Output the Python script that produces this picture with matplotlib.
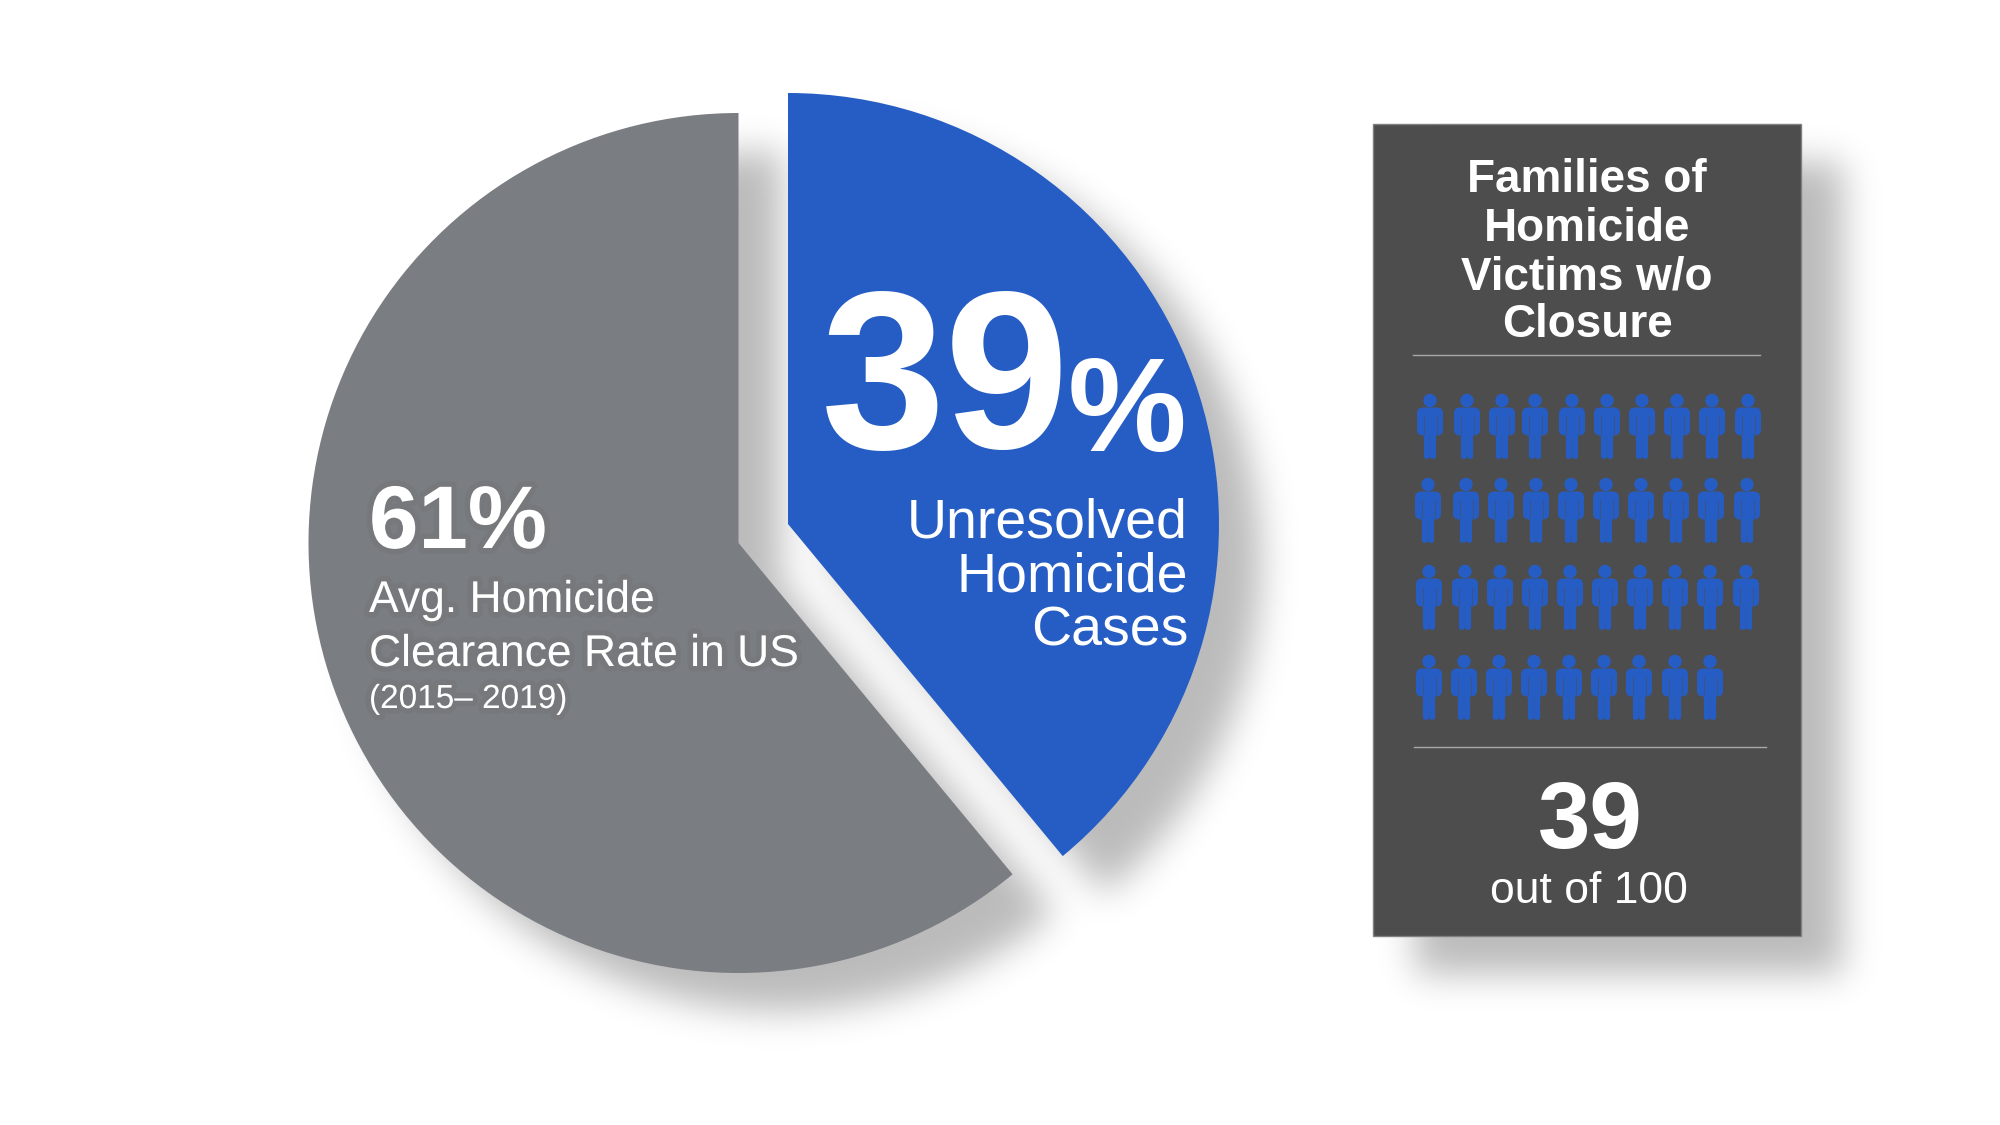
import numpy as np
import matplotlib
matplotlib.use("Agg")
import matplotlib.pyplot as plt
import matplotlib.patheffects as pe
from matplotlib.patches import Circle, FancyBboxPatch, Rectangle

plt.rcParams['font.family'] = ['Liberation Sans', 'DejaVu Sans']

# data
shares = [39, 61]
share_labels = ["39", "61%"]
rows_of_people = [10, 10, 10, 9]
panel_title = ["Families of", "Homicide", "Victims w/o", "Closure"]
blue_lines = ["Unresolved", "Homicide", "Cases"]
gray_lines = ["Avg. Homicide", "Clearance Rate in US"]
gray_years = "(2015\u2013 2019)"
panel_number = "39"
panel_note = "out of 100"

BLUE = "#265dc5"
GRAY = "#7a7d81"
PANEL = "#4d4d4d"

W, H = 2000, 1125
fig = plt.figure(figsize=(20, 11.25), dpi=100)
ax = fig.add_axes([0, 0, 1, 1])

# y axis is flipped below so angles run clockwise on screen
wedges, _ = ax.pie(shares, colors=[BLUE, GRAY], startangle=-90, counterclock=True,
                   radius=431, center=(788, 524))
wedges[0].set_zorder(3)
wedges[1].set_zorder(3)
wedges[1].set_center((738.5, 543))
wedges[1].set_radius(430)


def blur(a, sigma):
    fy = np.fft.fftfreq(a.shape[0])[:, None]
    fx = np.fft.rfftfreq(a.shape[1])[None, :]
    g = np.exp(-2 * (np.pi * sigma) ** 2 * (fx ** 2 + fy ** 2))
    return np.fft.irfft2(np.fft.rfft2(a) * g, s=a.shape)


# soft drop shadow under the wedges and the panel
px, py = 1373, 124
pw, ph = 428, 812
dx, dy = 42, 38
yy, xx = np.mgrid[0:H, 0:W]
pts = np.column_stack([xx.ravel() + 0.5 - dx, yy.ravel() + 0.5 - dy])
mask = np.zeros((H, W))
for w in wedges:
    w._recompute_path()
    mask = np.maximum(mask, w.get_path().contains_points(pts).reshape(H, W).astype(float))
mask[py + dy:py + ph + dy, px + dx:px + pw + dx] = 1
soft = blur(mask, 18).clip(0, 1)
shadow = np.zeros((H, W, 4))
shadow[..., 3] = soft * 0.27
ax.imshow(shadow, extent=(0, W, H, 0), zorder=1, interpolation="bilinear")

ax.add_patch(Rectangle((px, py), pw, ph, fc=PANEL, ec="#808080", lw=1, zorder=3))
ax.plot([1413, 1760], [355, 355], color="#a8a8a8", lw=1, zorder=4)
ax.plot([1414, 1766], [747, 747], color="#a8a8a8", lw=1, zorder=4)


def person(x, top):
    # head, shoulders with arms, legs
    ax.add_patch(Circle((x, top + 6.5), 6.7, fc=BLUE, ec="none", zorder=4))
    ax.add_patch(FancyBboxPatch((x - 10, top + 16.5), 20, 22, boxstyle="round,pad=3,rounding_size=6",
                                fc=BLUE, ec="none", zorder=4))
    for s in (-1, 1):
        ax.add_patch(FancyBboxPatch((x + s * 3.1 - 2.7, top + 36), 5.4, 28.5, boxstyle="round,pad=0.3,rounding_size=2.4",
                                    fc=BLUE, ec="none", zorder=4))
        ax.plot([x + s * 6.5, x + s * 6.5], [top + 22, top + 40], color=PANEL, lw=0.4, zorder=5)


# hand placed icon grid, slightly uneven like the source
row_tops = [394, 478, 565, 655]
row_x = [
    [1430, 1467, 1502, 1535, 1572, 1607, 1642, 1677, 1712, 1748],
    [1428, 1466, 1501, 1536, 1571, 1606, 1641, 1676, 1711, 1747],
    [1429, 1465, 1500, 1535, 1570, 1605, 1640, 1675, 1710, 1746],
    [1429, 1464, 1499, 1534, 1569, 1604, 1639, 1675, 1710],
]
for n, top, xs in zip(rows_of_people, row_tops, row_x):
    for x in xs[:n]:
        person(x, top)

txt = dict(color="white", zorder=6, va="baseline")
ax.text(821, 448, share_labels[0], fontsize=161, fontweight="bold", ha="left", **txt)
ax.text(1068, 451, "%", fontsize=96, fontweight="bold", ha="left", **txt)
for line, y in zip(blue_lines, [538, 592, 645]):
    ax.text(1188, y, line, fontsize=40, ha="right", **txt)

# faint dark halo behind the text on the gray slice
halo = [pe.withStroke(linewidth=8, foreground="#6f7175", alpha=0.35)]
ax.text(369, 548, share_labels[1], fontsize=64, fontweight="bold", ha="left", path_effects=halo, **txt)
for line, y in zip(gray_lines, [612, 666]):
    ax.text(369, y, line, fontsize=32, ha="left", path_effects=halo, **txt)
ax.text(369, 708, gray_years, fontsize=24, ha="left", path_effects=halo, **txt)

for line, y in zip(panel_title, [192, 241, 289, 337]):
    ax.text(1587, y, line, fontsize=33, fontweight="bold", ha="center", **txt)
ax.text(1590, 848, panel_number, fontsize=68, fontweight="bold", ha="center", **txt)
ax.text(1589, 903, panel_note, fontsize=32, ha="center", **txt)

ax.set_xlim(0, W)
ax.set_ylim(H, 0)
ax.set_aspect("equal")
ax.axis("off")

fig.savefig("out.png", dpi=100, facecolor="white")
